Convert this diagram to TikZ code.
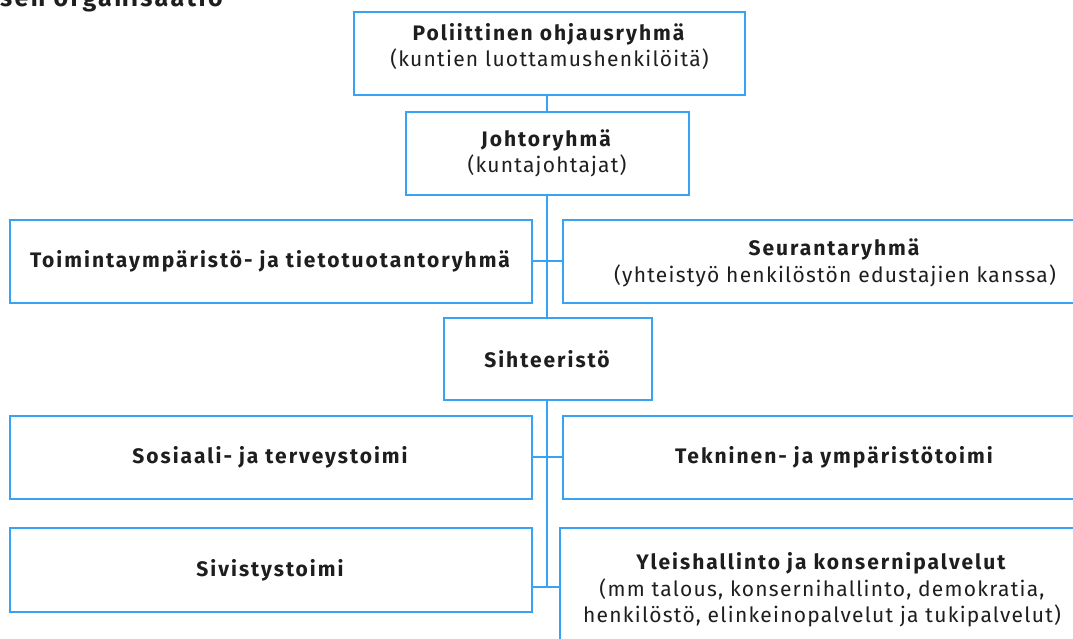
\documentclass[tikz,border=0pt]{standalone}
\usepackage{fontspec}
\setmainfont{Fira Sans}[UprightFeatures={LetterSpace=6},BoldFeatures={LetterSpace=9.5}]
\definecolor{lineblue}{RGB}{56,162,245}
\definecolor{txt}{RGB}{30,30,30}
\begin{document}
\begin{tikzpicture}[x=1pt,y=-1pt,
  box/.style={draw=lineblue,line width=2pt,fill=white,align=center,inner sep=0pt,text=txt,
    font=\fontsize{21}{26.5}\selectfont},
  label text/.style={align=center,inner sep=0pt,text=txt,font=\fontsize{21}{26.5}\selectfont},
  conn/.style={draw=lineblue,line width=2pt}]
\useasboundingbox (0,0) rectangle (1073,639);
\fill[white] (0,0) rectangle (1073,639);
\node[anchor=base west,text=txt,font=\fontsize{25}{30}\selectfont\bfseries,inner sep=0pt] (title) at (0,7) {sen organisaatio};
\node[box,minimum width=391pt,minimum height=83pt] (pol) at (549.5,53.5) {};
\node[label text] (poltext) at ([yshift=7pt]pol.center) {\textbf{Poliittinen ohjausryhmä}\\(kuntien luottamushenkilöitä)};
\node[box,minimum width=283pt,minimum height=83pt] (joh) at (547,153.5) {\textbf{Johtoryhmä}\\(kuntajohtajat)};
\node[box,minimum width=522pt,minimum height=83pt] (toi) at (271,261) {\textbf{Toimintaympäristö- ja tietotuotantoryhmä}};
\node[box,minimum width=544pt,minimum height=83pt] (seu) at (835,261) {};
\node[label text] (seutext) at ([yshift=-2pt]seu.center) {\textbf{Seurantaryhmä}\\(yhteistyö henkilöstön edustajien kanssa)};
\node[box,minimum width=208pt,minimum height=82pt] (sih) at (548,359) {\textbf{Sihteeristö}};
\node[box,minimum width=522pt,minimum height=83pt] (sos) at (271,457) {\textbf{Sosiaali- ja terveystoimi}};
\node[box,minimum width=544pt,minimum height=83pt] (tek) at (835,457) {\textbf{Tekninen- ja ympäristötoimi}};
\node[box,minimum width=522pt,minimum height=84pt] (siv) at (271,570) {\textbf{Sivistystoimi}};
\node[box,minimum width=524pt,minimum height=118pt] (yle) at (822,587) {};
\node[label text] (yletext) at ([yshift=-3pt]yle.center) {\textbf{Yleishallinto ja konsernipalvelut}\\(mm talous, konsernihallinto, demokratia,\\henkilöstö, elinkeinopalvelut ja tukipalvelut)};
\draw[conn] (joh.north) -- (joh.north |- pol.south);
\draw[conn] (joh.south) -- (joh.south |- sih.north);
\draw[conn] (toi.east) -- (toi.east -| seu.west);
\draw[conn] (sih.south -| joh.south) -- (joh.south |- yle.west);
\draw[conn] (sos.east) -- (sos.east -| tek.west);
\draw[conn] (siv.east |- yle.west) -- (yle.west);
\end{tikzpicture}
\end{document}
